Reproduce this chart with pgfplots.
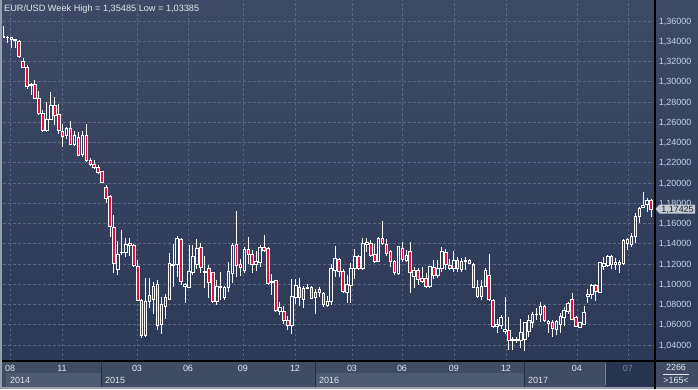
\documentclass[border=0pt]{standalone}
\usepackage{pgfplots}
\pgfplotsset{compat=1.18}
\usepackage{pgfplotstable}
\usepackage{fontspec}
\setmainfont{Liberation Sans}

\definecolor{bgtop}{RGB}{62,74,101}
\definecolor{bgbot}{RGB}{44,57,87}
\definecolor{bodybg}{RGB}{50,63,92}
\definecolor{gridc}{RGB}{90,104,132}
\definecolor{candred}{RGB}{222,18,58}
\definecolor{ylab}{RGB}{196,211,236}
\definecolor{xlab}{RGB}{226,231,238}
\definecolor{bandc}{RGB}{64,76,100}
\definecolor{yearc}{RGB}{78,90,114}
\definecolor{darkc}{RGB}{40,52,80}
\definecolor{sepc}{RGB}{34,44,66}
\definecolor{dimlab}{RGB}{120,132,152}
\definecolor{markbg}{RGB}{198,202,210}
\definecolor{marktx}{RGB}{28,38,56}
\definecolor{edgec}{RGB}{150,158,174}

\pgfplotstableread{
k o h l c
0 1.3447 1.35485 1.3435 1.3440
1 1.3435 1.3456 1.3380 1.3438
2 1.3439 1.3445 1.3336 1.3419
3 1.3410 1.3422 1.3336 1.3420
4 1.3402 1.3412 1.3232 1.3247
5 1.3205 1.3232 1.3133 1.3143
6 1.3139 1.3165 1.2928 1.2958
7 1.2968 1.2985 1.2869 1.2975
8 1.2975 1.3017 1.2830 1.2836
9 1.2836 1.2909 1.2672 1.2684
10 1.2688 1.2721 1.2507 1.2517
11 1.2517 1.2797 1.2507 1.2632
12 1.2632 1.2896 1.2622 1.2770
13 1.2763 1.2853 1.2573 1.2672
14 1.2681 1.2778 1.2481 1.2523
15 1.2514 1.2583 1.2359 1.2457
16 1.2467 1.2556 1.2435 1.2540
17 1.2540 1.2612 1.2375 1.2385
18 1.2382 1.2517 1.2368 1.2467
19 1.2451 1.2507 1.2267 1.2277
20 1.2283 1.2514 1.2260 1.2467
21 1.2474 1.2583 1.2210 1.2227
22 1.2227 1.2244 1.2171 1.2185
23 1.2188 1.2223 1.2138 1.2155
24 1.2155 1.2178 1.2089 1.2106
25 1.2112 1.2119 1.2003 1.2007
26 1.1954 1.1980 1.1800 1.1849
27 1.1872 1.1881 1.1464 1.1569
28 1.1562 1.1684 1.1114 1.1207
29 1.1148 1.1430 1.1091 1.1296
30 1.1310 1.1536 1.1289 1.1315
31 1.1312 1.1454 1.1272 1.1394
32 1.1404 1.1454 1.1279 1.1381
33 1.1388 1.1398 1.1167 1.1190
34 1.1180 1.1239 1.0835 1.0838
35 1.0844 1.0854 1.0466 1.0492
36 1.0492 1.1059 1.0482 1.0828
37 1.0828 1.1059 1.0763 1.0887
38 1.0852 1.1025 1.0711 1.0983
39 1.1002 1.1042 1.0548 1.0598
40 1.0607 1.0871 1.0509 1.0802
41 1.0785 1.0904 1.0654 1.0871
42 1.0854 1.1305 1.0844 1.1207
43 1.1183 1.1398 1.0970 1.1200
44 1.1200 1.1472 1.1075 1.1454
45 1.1447 1.1454 1.0993 1.1032
46 1.0983 1.1009 1.0818 1.1002
47 1.0970 1.1388 1.0961 1.1124
48 1.1114 1.1388 1.1091 1.1272
49 1.1200 1.1444 1.1150 1.1355
50 1.1365 1.1410 1.1108 1.1167
51 1.1114 1.1279 1.0961 1.1124
52 1.1158 1.1190 1.0861 1.1015
53 1.1114 1.1124 1.0818 1.0828
54 1.0835 1.1042 1.0795 1.0976
55 1.0970 1.1124 1.0844 1.0983
56 1.0868 1.0983 1.0844 1.0970
57 1.0970 1.1223 1.0926 1.1124
58 1.1108 1.1410 1.1009 1.1388
59 1.1398 1.1723 1.1075 1.1183
60 1.1197 1.1247 1.1082 1.1164
61 1.1141 1.1365 1.1114 1.1346
62 1.1346 1.1464 1.1200 1.1299
63 1.1296 1.1338 1.1108 1.1200
64 1.1200 1.1331 1.1134 1.1223
65 1.1213 1.1388 1.1174 1.1361
66 1.1365 1.1491 1.1322 1.1338
67 1.1355 1.1371 1.0993 1.1009
68 1.1015 1.1101 1.0894 1.1032
69 1.1035 1.1042 1.0729 1.0739
70 1.0729 1.0828 1.0696 1.0772
71 1.0736 1.0785 1.0607 1.0640
72 1.0647 1.0686 1.0548 1.0590
73 1.0590 1.1049 1.0509 1.0877
74 1.0871 1.1049 1.0805 1.0991
75 1.0970 1.1059 1.0785 1.0867
76 1.0854 1.0983 1.0763 1.0960
77 1.0956 1.0998 1.0950 1.0967
78 1.0970 1.0983 1.0851 1.0861
79 1.0871 1.0950 1.0711 1.0917
80 1.0953 1.0976 1.0877 1.0920
81 1.0911 1.0926 1.0772 1.0802
82 1.0795 1.0884 1.0778 1.0835
83 1.0835 1.1200 1.0795 1.1158
84 1.1141 1.1378 1.1069 1.1256
85 1.1247 1.1256 1.1069 1.1131
86 1.1124 1.1148 1.0911 1.0926
87 1.0920 1.1091 1.0818 1.1002
88 1.0986 1.1207 1.0818 1.1158
89 1.1158 1.1345 1.1049 1.1279
90 1.1279 1.1289 1.1141 1.1158
91 1.1154 1.1454 1.1141 1.1404
92 1.1394 1.1457 1.1322 1.1410
93 1.1404 1.1437 1.1272 1.1289
94 1.1296 1.1398 1.1207 1.1223
95 1.1230 1.1470 1.1223 1.1454
96 1.1454 1.1625 1.1388 1.1404
97 1.1398 1.1444 1.1279 1.1306
98 1.1322 1.1338 1.1174 1.1230
99 1.1223 1.1239 1.1091 1.1114
100 1.1108 1.1378 1.1091 1.1371
101 1.1355 1.1420 1.1223 1.1247
102 1.1239 1.1338 1.1223 1.1282
103 1.1328 1.1420 1.0911 1.1114
104 1.1075 1.1174 1.0967 1.1141
105 1.1134 1.1158 1.0993 1.1049
106 1.1059 1.1174 1.1009 1.1025
107 1.1059 1.1108 1.0961 1.0976
108 1.0976 1.1180 1.0967 1.1174
109 1.1164 1.1239 1.1049 1.1091
110 1.1091 1.1239 1.1059 1.1158
111 1.1158 1.1365 1.1124 1.1328
112 1.1315 1.1345 1.1141 1.1200
113 1.1190 1.1247 1.1141 1.1158
114 1.1158 1.1328 1.1124 1.1239
115 1.1239 1.1272 1.1124 1.1158
116 1.1151 1.1256 1.1124 1.1230
117 1.1230 1.1272 1.1141 1.1239
118 1.1239 1.1249 1.1200 1.1207
119 1.1200 1.1207 1.0961 1.0970
120 1.0970 1.1042 1.0861 1.0877
121 1.0877 1.1042 1.0844 1.0983
122 1.0983 1.1158 1.0970 1.1141
123 1.1085 1.1299 1.0839 1.0852
124 1.0844 1.0852 1.0565 1.0581
125 1.0581 1.0654 1.0516 1.0607
126 1.0590 1.0696 1.0555 1.0674
127 1.0531 1.0871 1.0509 1.0555
128 1.0548 1.0681 1.0351 1.0449
129 1.0443 1.0480 1.0351 1.0456
130 1.0450 1.0475 1.0420 1.0455
131 1.0449 1.0654 1.0370 1.0522
132 1.0456 1.0630 1.03385 1.0620
133 1.0531 1.0696 1.0482 1.0647
134 1.0620 1.0729 1.0565 1.0706
135 1.0700 1.0763 1.0647 1.0706
136 1.0706 1.0828 1.0630 1.0778
137 1.0785 1.0795 1.0630 1.0647
138 1.0614 1.0647 1.0516 1.0630
139 1.0620 1.0647 1.0482 1.0565
140 1.0555 1.0647 1.0499 1.0630
141 1.0607 1.0719 1.0522 1.0681
142 1.0674 1.0778 1.0588 1.0746
143 1.0729 1.0828 1.0711 1.0812
144 1.0852 1.0911 1.0647 1.0654
145 1.0674 1.0686 1.0575 1.0581
146 1.0575 1.0630 1.0565 1.0620
147 1.0607 1.0785 1.0598 1.0719
148 1.0877 1.0950 1.0818 1.0901
149 1.0904 1.0998 1.0852 1.0988
150 1.0988 1.0998 1.0839 1.0933
151 1.0917 1.1223 1.0911 1.1213
152 1.1180 1.1266 1.1141 1.1207
153 1.1190 1.1289 1.1167 1.1279
154 1.1279 1.1289 1.1148 1.1200
155 1.1200 1.1256 1.1141 1.1213
156 1.1200 1.1239 1.1114 1.1213
157 1.1207 1.1444 1.1190 1.1430
158 1.1404 1.1454 1.1338 1.1444
159 1.1398 1.1503 1.1365 1.1470
160 1.1470 1.1701 1.1410 1.1674
161 1.1667 1.1766 1.1608 1.1750
162 1.1760 1.1914 1.1750 1.1783
163 1.1793 1.1849 1.1717 1.1832
164 1.1832 1.1839 1.1661 1.17425
}\candles

\newcommand{\fs}{\fontsize{9}{10}\selectfont}

\pgfplotsset{chartgeom/.style={
  at={(3bp,28bp)}, anchor=south west, scale only axis,
  width=652bp, height=361bp,
  xmin=-0.076, xmax=165, ymin=1.0242, ymax=1.38074,
}}

\begin{document}
\begin{tikzpicture}[x=1bp,y=1bp]
% backgrounds
\shade[top color=bgtop, bottom color=bgbot] (0,28) rectangle (698,389);
\fill[bandc] (0,0) rectangle (698,28);
\fill[yearc] (6,2) rectangle (101,16);
\fill[yearc] (315,2) rectangle (524,16);
\fill[darkc] (606,2) rectangle (655,28);
\fill[edgec] (0,0) rectangle (698,1.6);
\fill[edgec] (0,0) rectangle (1.8,389);
\draw[sepc, line width=1bp] (101,2)--(101,28) (315,2)--(315,28) (524,2)--(524,28);
\draw[dimlab, line width=0.8bp] (605.5,4)--(605.5,26);

\begin{axis}[chartgeom,
  axis x line*=bottom, axis y line*=right,
  axis line style={draw=none},
  major tick length=0pt,
  xtick={1.70,14.86,33.85,46.76,60.68,73.85,88.28,100.94,114.09,127.27,145.24,158.15},
  xticklabels={08,11,03,06,09,12,03,06,09,12,04,\textcolor{dimlab}{07}},
  ytick={1.04,1.06,1.08,1.10,1.12,1.14,1.16,1.18,1.20,1.22,1.24,1.26,1.28,1.30,1.32,1.34,1.36},
  yticklabels={{1,04000},{1,06000},{1,08000},{1,10000},{1,12000},{1,14000},{1,16000},{1,18000},{1,20000},{1,22000},{1,24000},{1,26000},{1,28000},{1,30000},{1,32000},{1,34000},{1,36000}},
  xmajorgrids, ymajorgrids,
  major grid style={draw=gridc, line width=0.8bp, dash pattern=on 2.5bp off 2.5bp},
  xticklabel style={font=\fs, text=xlab, anchor=center, inner sep=0pt, yshift=-7.4bp, text height=6.44bp, text depth=0pt},
  yticklabel style={font=\fs, text=ylab, anchor=west, inner sep=0pt, xshift=3.7bp, text height=6.44bp, text depth=0pt},
]
\addplot[only marks, mark=none, mark size=0pt, mark options={draw=none, fill=none},
  error bars/.cd, y dir=both, y explicit, error mark=none,
  error bar style={draw=white, line width=0.8bp}]
  table[x=k, y expr={(\thisrow{h}+\thisrow{l})/2}, y error expr={(\thisrow{h}-\thisrow{l})/2}] {\candles};
\end{axis}

\begin{axis}[chartgeom, hide axis, ybar stacked, bar width=2.6bp]
\addplot[draw=none, fill=none] table[x=k, y expr={min(\thisrow{o},\thisrow{c})}] {\candles};
\addplot[draw=white, fill=candred, line width=0.75bp] table[x=k, y expr={max(\thisrow{o}-\thisrow{c},0)}] {\candles};
\addplot[draw=white, fill=bodybg, line width=0.75bp] table[x=k, y expr={max(\thisrow{c}-\thisrow{o},0)}] {\candles};
\end{axis}

% frame lines
\draw[black, line width=1.1bp] (1.8,28)--(698,28);
\draw[black, line width=1.1bp] (655,0)--(655,389);

% year labels
\node[anchor=base west, font=\fs, text=xlab, inner sep=0pt] at (10,5.7) {2014};
\node[anchor=base west, font=\fs, text=xlab, inner sep=0pt] at (105,5.7) {2015};
\node[anchor=base west, font=\fs, text=xlab, inner sep=0pt] at (319,5.7) {2016};
\node[anchor=base west, font=\fs, text=xlab, inner sep=0pt] at (528,5.7) {2017};

% corner box
\node[anchor=base, font=\fs, text=xlab, inner sep=0pt] at (676,18.3) {2266};
\draw[xlab, line width=0.6bp] (663,15)--(689,15);
\node[anchor=base, font=\fs, text=xlab, inner sep=0pt] at (676,5.3) {>165<};

% last price marker
\fill[markbg] (655.5,180) -- (659.5,184.5) -- (695,184.5) -- (695,175.5) -- (659.5,175.5) -- cycle;
\node[anchor=base, font=\fs, text=marktx, inner sep=0pt] at (677.5,176.8) {1,17425};

% title
\node[anchor=base west, font=\fontsize{9.2}{10}\selectfont, text=xlab, inner sep=0pt] at (4,377.3) {EUR/USD Week High = 1,35485 Low = 1,03385};

\pgfresetboundingbox
\useasboundingbox (0,0) rectangle (698,389);
\end{tikzpicture}
\end{document}
